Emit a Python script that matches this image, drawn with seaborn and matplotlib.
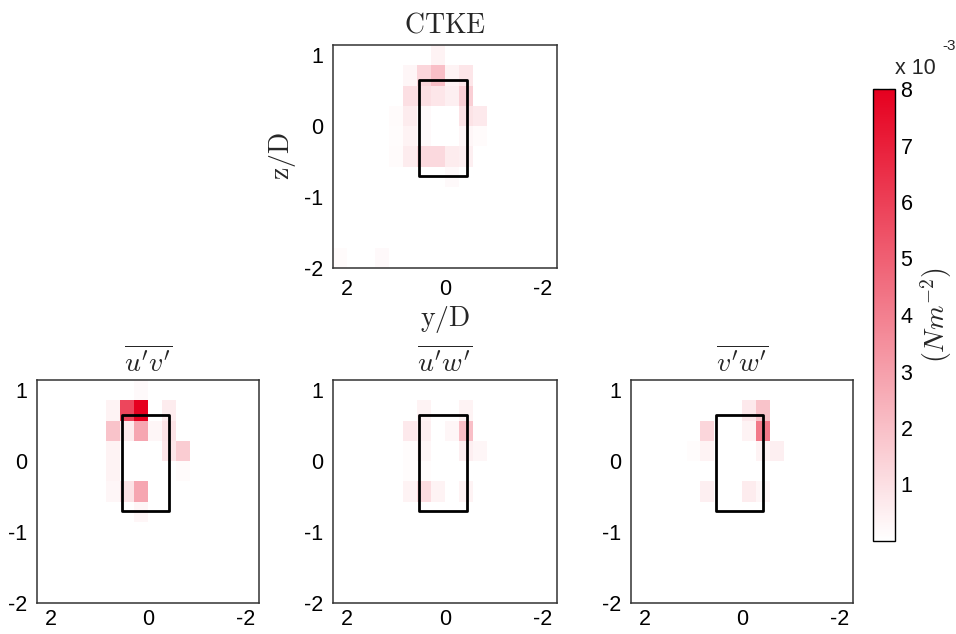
import numpy as np
import pandas as pd
import matplotlib
matplotlib.use("Agg")
import matplotlib.pyplot as plt
import seaborn as sns
from matplotlib.colors import LinearSegmentedColormap
from matplotlib.patches import Rectangle

sns.set_theme(style="white")
plt.rcParams["font.family"] = ["Liberation Sans", "DejaVu Sans"]
plt.rcParams["mathtext.fontset"] = "cm"

# Measurement grid (cell size 2/7 D); y/D runs left-to-right from +2.14 to -2.14
y_centers = [2.143, 1.857, 1.571, 1.286, 1.0, 0.714, 0.429, 0.143,
             -0.143, -0.429, -0.714, -1.0, -1.286, -1.571, -1.857, -2.143]
z_centers = [1.0, 0.714, 0.429, 0.143, -0.143, -0.429, -0.714,
             -1.0, -1.286, -1.571, -1.857]
cell = 2 / 7

# Non-zero cells, keyed (row, column) -> value in units of 1e-3 N m^-2
ctke_cells = {
    (0, 7): 0.4,
    (1, 5): 0.3, (1, 6): 1.3, (1, 7): 2.0, (1, 8): 0.4, (1, 9): 0.8,
    (2, 5): 1.0, (2, 6): 1.0, (2, 7): 0.8, (2, 8): 0.5, (2, 9): 1.5,
    (3, 4): 0.15, (3, 5): 0.6, (3, 6): 0.2, (3, 9): 0.9, (3, 10): 0.7,
    (4, 4): 0.1, (4, 5): 0.4, (4, 6): 0.2, (4, 9): 0.3, (4, 10): 0.15,
    (5, 4): 0.15, (5, 5): 0.6, (5, 6): 1.2, (5, 7): 1.2, (5, 8): 0.6, (5, 9): 0.5,
    (6, 8): 0.2,
    (10, 0): 0.15, (10, 3): 0.2,
}
uv_cells = {
    (0, 7): 0.2,
    (1, 5): 0.4, (1, 6): 5.8, (1, 7): 8.0, (1, 9): 0.6,
    (2, 5): 1.9, (2, 6): 0.6, (2, 7): 2.8, (2, 8): 0.3, (2, 9): 0.9,
    (3, 5): 0.4, (3, 9): 0.8, (3, 10): 1.6,
    (4, 5): 0.4, (4, 10): 0.15,
    (5, 5): 0.3, (5, 6): 0.9, (5, 7): 2.8,
    (6, 7): 0.3,
}
uw_cells = {
    (1, 6): 0.4, (1, 9): 0.4,
    (2, 5): 0.7, (2, 6): 0.5, (2, 8): 0.3, (2, 9): 2.0,
    (3, 5): 0.1, (3, 6): 0.3, (3, 9): 0.5, (3, 10): 0.3,
    (4, 5): 0.1, (4, 6): 0.1,
    (5, 5): 0.4, (5, 6): 1.1, (5, 7): 0.4, (5, 9): 0.4,
}
vw_cells = {
    (1, 8): 0.7, (1, 9): 1.9,
    (2, 5): 1.3, (2, 8): 0.4, (2, 9): 4.2,
    (3, 4): 0.1, (3, 5): 0.4, (3, 9): 0.4, (3, 10): 0.5,
    (5, 5): 0.5, (5, 8): 0.6, (5, 9): 0.3,
}

# Body outline (y/D, z/D)
body_y = (0.54, -0.44)
body_z = (0.65, -0.70)

x_ticks = [2, 0, -2]
z_ticks = [1, 0, -1, -2]
cbar_ticks = [1, 2, 3, 4, 5, 6, 7, 8]
vmin, vmax = 0.0, 8.0

cmap = LinearSegmentedColormap.from_list("white_red", ["#ffffff", "#e6001f"])

y_left = y_centers[0] + cell / 2
z_top = z_centers[0] + cell / 2


def col_pos(y):
    return (y_left - y) / cell


def row_pos(z):
    return (z_top - z) / cell


def to_frame(cells):
    grid = np.zeros((len(z_centers), len(y_centers)))
    for (r, c), v in cells.items():
        grid[r, c] = v
    return pd.DataFrame(grid, index=z_centers, columns=y_centers)


fig = plt.figure(figsize=(9.56, 6.34), dpi=100)
W, H = 956, 634


def px_axes(x0, y0, x1, y1):
    return fig.add_axes([x0 / W, 1 - y1 / H, (x1 - x0) / W, (y1 - y0) / H])


ax_ctke = px_axes(333, 45, 557, 268)
ax_uv = px_axes(37, 380, 259, 603)
ax_uw = px_axes(333, 380, 557, 603)
ax_vw = px_axes(631, 380, 853, 603)
cax = px_axes(873, 89, 895, 541)

panels = [
    (ax_ctke, ctke_cells, r"$\mathrm{CTKE}$"),
    (ax_uv, uv_cells, r"$\overline{u'v'}$"),
    (ax_uw, uw_cells, r"$\overline{u'w'}$"),
    (ax_vw, vw_cells, r"$\overline{v'w'}$"),
]

for i, (ax, cells, title) in enumerate(panels):
    sns.heatmap(to_frame(cells), ax=ax, cmap=cmap, vmin=vmin, vmax=vmax,
                cbar=(i == 0), cbar_ax=cax if i == 0 else None,
                xticklabels=False, yticklabels=False)
    ax.set_xticks([col_pos(v) for v in x_ticks])
    ax.set_xticklabels([str(v) for v in x_ticks], rotation=0)
    ax.set_yticks([row_pos(v) for v in z_ticks])
    ax.set_yticklabels([str(v) for v in z_ticks], rotation=0)
    ax.tick_params(axis="both", length=0, labelsize=15.5, colors="black")
    ax.tick_params(axis="x", pad=8 if i == 0 else 4)
    ax.tick_params(axis="y", pad=7)
    for s in ax.spines.values():
        s.set_visible(True)
        s.set_color("#333333")
        s.set_linewidth(1.1)
    ax.add_patch(Rectangle((col_pos(body_y[0]), row_pos(body_z[0])),
                           col_pos(body_y[1]) - col_pos(body_y[0]),
                           row_pos(body_z[1]) - row_pos(body_z[0]),
                           fill=False, edgecolor="black", linewidth=2,
                           joinstyle="round"))
    ax.set_title(title, fontsize=20, pad=9 if i == 0 else 6)

ax_ctke.set_xlabel(r"$\mathrm{y/D}$", fontsize=20, labelpad=3)
ax_ctke.set_ylabel(r"$\mathrm{z/D}$", fontsize=20, labelpad=4)

cb = ax_ctke.collections[0].colorbar
cb.set_ticks(cbar_ticks)
cb.set_ticklabels([str(t) for t in cbar_ticks])
cb.outline.set_edgecolor("black")
cb.outline.set_linewidth(1.0)
cax.tick_params(axis="y", direction="in", left=True, right=True,
                length=4, width=0.8, labelsize=15.5, pad=4, colors="black")
cax.set_ylabel(r"$(Nm^{-2})$", fontsize=20, labelpad=4)
cax.yaxis.set_label_position("right")

fig.text(915 / W, 1 - 68 / H, "x 10", fontsize=15.5, ha="center", va="center")
fig.text(949 / W, 1 - 46 / H, "-3", fontsize=11, ha="center", va="center")

fig.savefig("out.png", dpi=100)
